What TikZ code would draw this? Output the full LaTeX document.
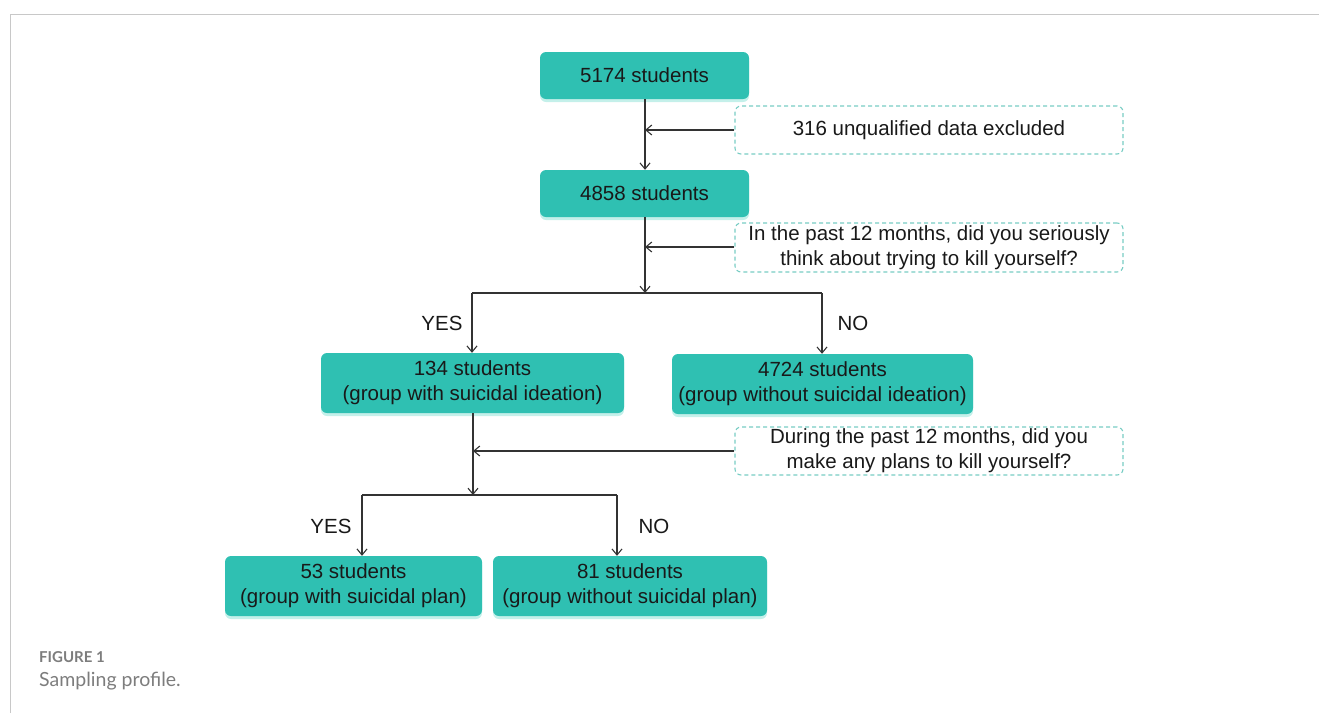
\documentclass[tikz,border=0pt]{standalone}
\usepackage{fontspec}
\setmainfont{Liberation Sans}
\newfontfamily\capfont{Lato}
\usetikzlibrary{arrows.meta,shadows,positioning}
\definecolor{boxteal}{RGB}{47,192,178}
\definecolor{dashteal}{RGB}{120,205,196}
\definecolor{glow}{RGB}{196,240,234}
\definecolor{linegray}{RGB}{51,51,51}
\definecolor{framegray}{RGB}{200,200,200}
\definecolor{capgray}{RGB}{125,125,125}
\definecolor{txt}{RGB}{25,25,25}
\tikzset{
  solidbox/.style={draw=none, fill=boxteal, rounded corners=6pt, text=txt,
    font=\fontsize{20.5}{25}\selectfont, align=center, inner sep=0pt,
    drop shadow={shadow xshift=0pt, shadow yshift=-3pt, fill=glow, opacity=1}},
  dashbox/.style={draw=dashteal, dash pattern=on 4pt off 3pt, line width=1.1pt,
    rounded corners=6pt, fill=white, text=txt,
    font=\fontsize{20.5}{25}\selectfont, align=center, inner sep=0pt},
  conn/.style={draw=linegray, line width=1.2pt},
  arr/.style={conn, -{Straight Barb[length=6pt,width=10pt,line width=1.1pt]}},
  lbl/.style={font=\fontsize{20.5}{24}\selectfont, text=txt, inner sep=0pt}
}
\begin{document}
\begin{tikzpicture}[x=1pt,y=-1pt]
\useasboundingbox (0,0) rectangle (1319,713);
% frame
\draw[framegray, line width=1pt] (10,713) -- (10,14) -- (1319,14);

% main boxes
\node[solidbox, minimum width=209pt, minimum height=47pt] (n1) at (644.5,75.5) {5174 students};
\node[solidbox, minimum width=209pt, minimum height=47pt] (n2) at (644.5,193.5) {4858 students};
\node[solidbox, minimum width=303pt, minimum height=60pt] (n3) at (472.5,383) {134 students\\(group with suicidal ideation)};
\node[solidbox, minimum width=301pt, minimum height=60pt] (n4) at (822.5,384) {4724 students\\(group without suicidal ideation)};
\node[solidbox, minimum width=257pt, minimum height=60pt] (n5) at (353.5,586) {53 students\\(group with suicidal plan)};
\node[solidbox, minimum width=274pt, minimum height=60pt] (n6) at (630,586) {81 students\\(group without suicidal plan)};

% dashed boxes
\node[dashbox, minimum width=388pt, minimum height=48pt] (d1) at (929,130) {316 unqualified data excluded};
\node[dashbox, minimum width=388pt, minimum height=49pt] (d2) at (929,247.5) {In the past 12 months, did you seriously\\think about trying to kill yourself?};
\node[dashbox, minimum width=388pt, minimum height=48pt] (d3) at (929,451) {During the past 12 months, did you\\make any plans to kill yourself?};

% junction coordinates
\coordinate (j1) at (645,130);
\coordinate (j2) at (645,247);
\coordinate (s1) at (645,293);
\coordinate (sL) at (472,293);
\coordinate (sR) at (822,293);
\coordinate (j3) at (473,451);
\coordinate (s2) at (473,495);
\coordinate (tL) at (362,495);
\coordinate (tR) at (617,495);

% connectors
\draw[arr] (n1.south -| j1) -- (n2.north -| j1);
\draw[arr] (d1.west) -- (j1);
\draw[arr] (n2.south -| s1) -- (s1);
\draw[arr] (d2.west |- j2) -- (j2);
\draw[conn] (sL) -- (sR);
\draw[arr] (sL) -- (n3.north -| sL);
\draw[arr] (sR) -- (n4.north -| sR);
\draw[arr] (n3.south -| s2) -- (s2);
\draw[arr] (d3.west |- j3) -- (j3);
\draw[conn] (tL) -- (tR);
\draw[arr] (tL) -- (n5.north -| tL);
\draw[arr] (tR) -- (n6.north -| tR);

% labels
\node[lbl] (y1) at (442,323) {YES};
\node[lbl] (no1) at (853,323) {NO};
\node[lbl] (y2) at (331,526) {YES};
\node[lbl] (no2) at (654,526) {NO};

% caption
\node[anchor=west, inner sep=0pt, text=capgray, font=\capfont\bfseries\fontsize{15}{18}\selectfont] (cap1) at (39,657) {FIGURE 1};
\node[anchor=west, inner sep=0pt, text=capgray, font=\capfont\fontsize{19.5}{23}\selectfont] (cap2) at (39,681) {Sampling profile.};
\end{tikzpicture}
\end{document}
